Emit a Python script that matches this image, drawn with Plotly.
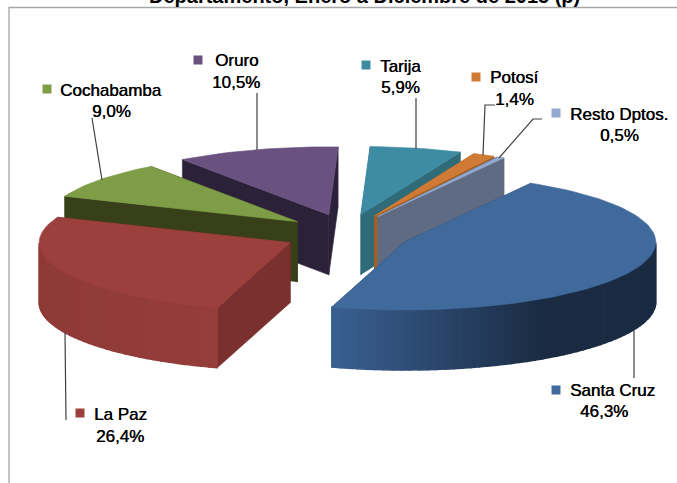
import math
import plotly.graph_objects as go

# ---- data ----
names = ["Santa Cruz", "La Paz", "Cochabamba", "Oruro", "Tarija", "Potosí", "Resto Dptos."]
values = [46.3, 26.4, 9.0, 10.5, 5.9, 1.4, 0.5]
value_labels = ["46,3%", "26,4%", "9,0%", "10,5%", "5,9%", "1,4%", "0,5%"]
title = "Departamento, Enero a Diciembre de 2015 (p)"

top_colors = ["#416a9c", "#9c403d", "#7f9c47", "#69527f", "#3e8ca3", "#cf7b35", "#94a9cf"]
side_colors = ["#2a4566", "#7a302e", "#384019", "#2b2139", "#2f6b78", "#a85f1f", "#5f6b82"]
# outer wall ramp (colour at wall's start angle, colour at wall's end angle) per slice
wall_ramp = {0: ("#1a2b42", "#3a6092"), 1: ("#943d3a", "#8c3936")}

# ---- drawing style / layout ----
W, H = 677, 483
START_ANGLE = 30.2
CX, CY = 347, 234
RX, RY = 251, 68
EXPLODE_X, EXPLODE_Y = 63, 20
DEPTH = 60

label_pos = {  # name xy, percent xy, marker xy
    "Santa Cruz": ((612, 390), (604, 411), (556, 390)),
    "La Paz": ((120, 414), (120, 436), (80, 413)),
    "Cochabamba": ((111, 90), (111, 111), (47, 89)),
    "Oruro": ((236, 60), (236, 82), (198, 60)),
    "Tarija": ((400, 66), (400, 87), (366, 65)),
    "Potosí": ((514, 77), (514, 99), (476, 77)),
    "Resto Dptos.": ((619, 114), (619, 135), (556, 113)),
}
leaders = [
    ([92, 102], [118, 180]),
    ([257, 257], [93, 150]),
    ([416, 416], [98, 149]),
    ([495, 485, 483], [105, 105, 155]),
    ([542, 533, 499], [119, 119, 158]),
    ([66, 65], [420, 333]),
    ([634, 634], [378, 330]),
]


def hex_mix(a, b, t):
    ca = [int(a[i:i + 2], 16) for i in (1, 3, 5)]
    cb = [int(b[i:i + 2], 16) for i in (1, 3, 5)]
    return "#%02x%02x%02x" % tuple(round(p + (q - p) * t) for p, q in zip(ca, cb))


def poly(fig, xs, ys, color, lw=0.6):
    fig.add_trace(go.Scatter(x=xs + xs[:1], y=ys + ys[:1], mode="lines", fill="toself",
                             fillcolor=color, line=dict(color=color, width=lw),
                             hoverinfo="skip", showlegend=False))


# angular spans from the values
spans = []
a = START_ANGLE
for v in values:
    b = a + v * 3.6
    spans.append((a, b))
    a = b


def slice_geom(i):
    a0, a1 = spans[i]
    mid = math.radians((a0 + a1) / 2)
    ax = CX + EXPLODE_X * math.sin(mid)
    ay = CY - EXPLODE_Y * math.cos(mid)
    return a0, a1, ax, ay


def rim(ax, ay, deg):
    r = math.radians(deg)
    return ax + RX * math.sin(r), ay - RY * math.cos(r)


fig = go.Figure()

# back to front
for i in [3, 4, 5, 6, 2, 1, 0]:
    a0, a1, ax, ay = slice_geom(i)
    n = max(6, int((a1 - a0) / 2))
    degs = [a0 + (a1 - a0) * k / n for k in range(n + 1)]
    pts = [rim(ax, ay, d) for d in degs]
    # radial walls
    for d in (a0, a1):
        px, py = rim(ax, ay, d)
        poly(fig, [ax, px, px, ax], [ay, py, py + DEPTH, ay + DEPTH], side_colors[i])
    # outer wall where it faces the viewer
    c0, c1 = wall_ramp.get(i, (side_colors[i], side_colors[i]))
    for k in range(n):
        d0, d1 = degs[k], degs[k + 1]
        if math.cos(math.radians((d0 + d1) / 2)) < 0:
            t = min(1.0, max(0.0, ((d0 + d1) / 2 - a0 - 117) / max(1.0, (a1 - a0 - 117)))) if i == 0 else k / n
            col = hex_mix(c0, c1, t)
            (x0, y0), (x1, y1) = pts[k], pts[k + 1]
            poly(fig, [x0, x1, x1, x0], [y0, y1, y1 + DEPTH, y0 + DEPTH], col, lw=1.5)
    # top face
    poly(fig, [ax] + [p[0] for p in pts], [ay] + [p[1] for p in pts], top_colors[i])

# leader lines
for lx, ly in leaders:
    fig.add_trace(go.Scatter(x=lx, y=ly, mode="lines", line=dict(color="#404040", width=1.2),
                             hoverinfo="skip", showlegend=False))

# legend keys and labels
fnt = dict(family="Liberation Sans", size=17, color="#000000", shadow="0.4px 0 0 #000000")
for i, nm in enumerate(names):
    p_name, p_val, p_key = label_pos[nm]
    fig.add_trace(go.Scatter(x=[p_key[0]], y=[p_key[1]], mode="markers",
                             marker=dict(symbol="square", size=9, color=top_colors[i]),
                             hoverinfo="skip", showlegend=False))
    fig.add_annotation(x=p_name[0], y=p_name[1], text=nm, showarrow=False, font=fnt,
                       xanchor="center", yanchor="middle")
    fig.add_annotation(x=p_val[0], y=p_val[1], text=value_labels[i], showarrow=False, font=fnt,
                       xanchor="center", yanchor="middle")

fig.add_annotation(x=364, y=0, yshift=4, text="<b>%s</b>" % title, showarrow=False,
                   font=dict(family="Liberation Sans", size=20, color="#000000"),
                   xanchor="center", yanchor="middle")

# chart frame
fig.add_shape(type="rect", x0=9, y0=7.5, x1=W + 5, y1=H + 5, line=dict(color="#a6a6a6", width=1.3),
              layer="below")

fig.update_layout(width=W, height=H, margin=dict(l=0, r=0, t=0, b=0), autosize=False,
                  paper_bgcolor="white", plot_bgcolor="white", showlegend=False,
                  xaxis=dict(range=[0, W], visible=False, fixedrange=True),
                  yaxis=dict(range=[H, 0], visible=False, fixedrange=True))
fig.write_html("out.html", config=dict(displayModeBar=False),
               post_script="document.body.style.margin='0';document.body.style.overflow='hidden';")
